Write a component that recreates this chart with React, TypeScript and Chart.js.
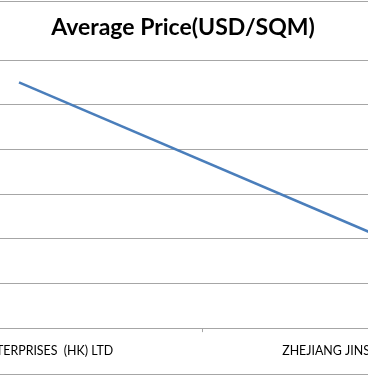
import React, { useEffect, useRef } from "react";
import { Chart, registerables } from "chart.js";

Chart.register(...registerables);

const title = "Average Price(USD/SQM)";
const categories = ["GOLDEN ENTERPRISES  (HK) LTD", "ZHEJIANG JINSUI TEXTILES CO.,LTD"];
const avgPrice = [11.0, 4.0];
const yMin = 0;
const yMax = 12;
const yStep = 2;

const LINE_BLUE = "rgb(74,126,187)";
const GRID = "#a6a6a6";

export default function App() {
  const ref = useRef<HTMLCanvasElement | null>(null);

  useEffect(() => {
    if (!ref.current) return;
    const chart = new Chart(ref.current, {
      type: "line",
      data: {
        labels: categories,
        datasets: [
          {
            label: title,
            data: avgPrice,
            borderColor: LINE_BLUE,
            backgroundColor: LINE_BLUE,
            borderWidth: 2.5,
            pointRadius: 0,
            tension: 0,
          },
        ],
      },
      options: {
        animation: false,
        responsive: false,
        maintainAspectRatio: false,
        devicePixelRatio: 1,
        layout: { padding: { left: 0, right: 0, top: 0, bottom: 5 } },
        plugins: {
          legend: { display: false },
          tooltip: { enabled: false },
          title: {
            display: true,
            text: title,
            color: "#000",
            font: { family: "Lato", size: 23, weight: "bold", lineHeight: 1.2 },
            padding: { top: 12, bottom: 18.4 },
          },
        },
        scales: {
          x: {
            type: "category",
            offset: true,
            grid: {
              offset: true,
              drawOnChartArea: false,
              drawTicks: true,
              tickLength: 4,
              color: GRID,
            },
            border: { display: true, color: GRID, width: 1 },
            ticks: {
              color: "#000",
              font: { family: "Lato", size: 12.4, lineHeight: 1.2 },
              padding: 11,
              maxRotation: 0,
              minRotation: 0,
              autoSkip: false,
            },
          },
          y: {
            min: yMin,
            max: yMax,
            ticks: { display: false, stepSize: yStep },
            grid: { color: GRID, drawTicks: false, lineWidth: 1 },
            border: { display: false },
            afterFit: (scale: any) => {
              scale.width = 38;
            },
          },
        },
      },
    });
    return () => chart.destroy();
  }, []);

  return (
    <div
      style={{
        position: "fixed",
        left: 0,
        top: 0,
        width: 368,
        height: 376,
        overflow: "hidden",
        background: "#fff",
      }}
    >
      <div
        style={{
          position: "absolute",
          left: -202,
          top: 1,
          width: 770,
          height: 372,
          borderTop: `1px solid ${GRID}`,
          borderBottom: `1px solid ${GRID}`,
        }}
      >
        <canvas ref={ref} width={770} height={372} style={{ display: "block", width: 770, height: 372 }} />
      </div>
    </div>
  );
}
